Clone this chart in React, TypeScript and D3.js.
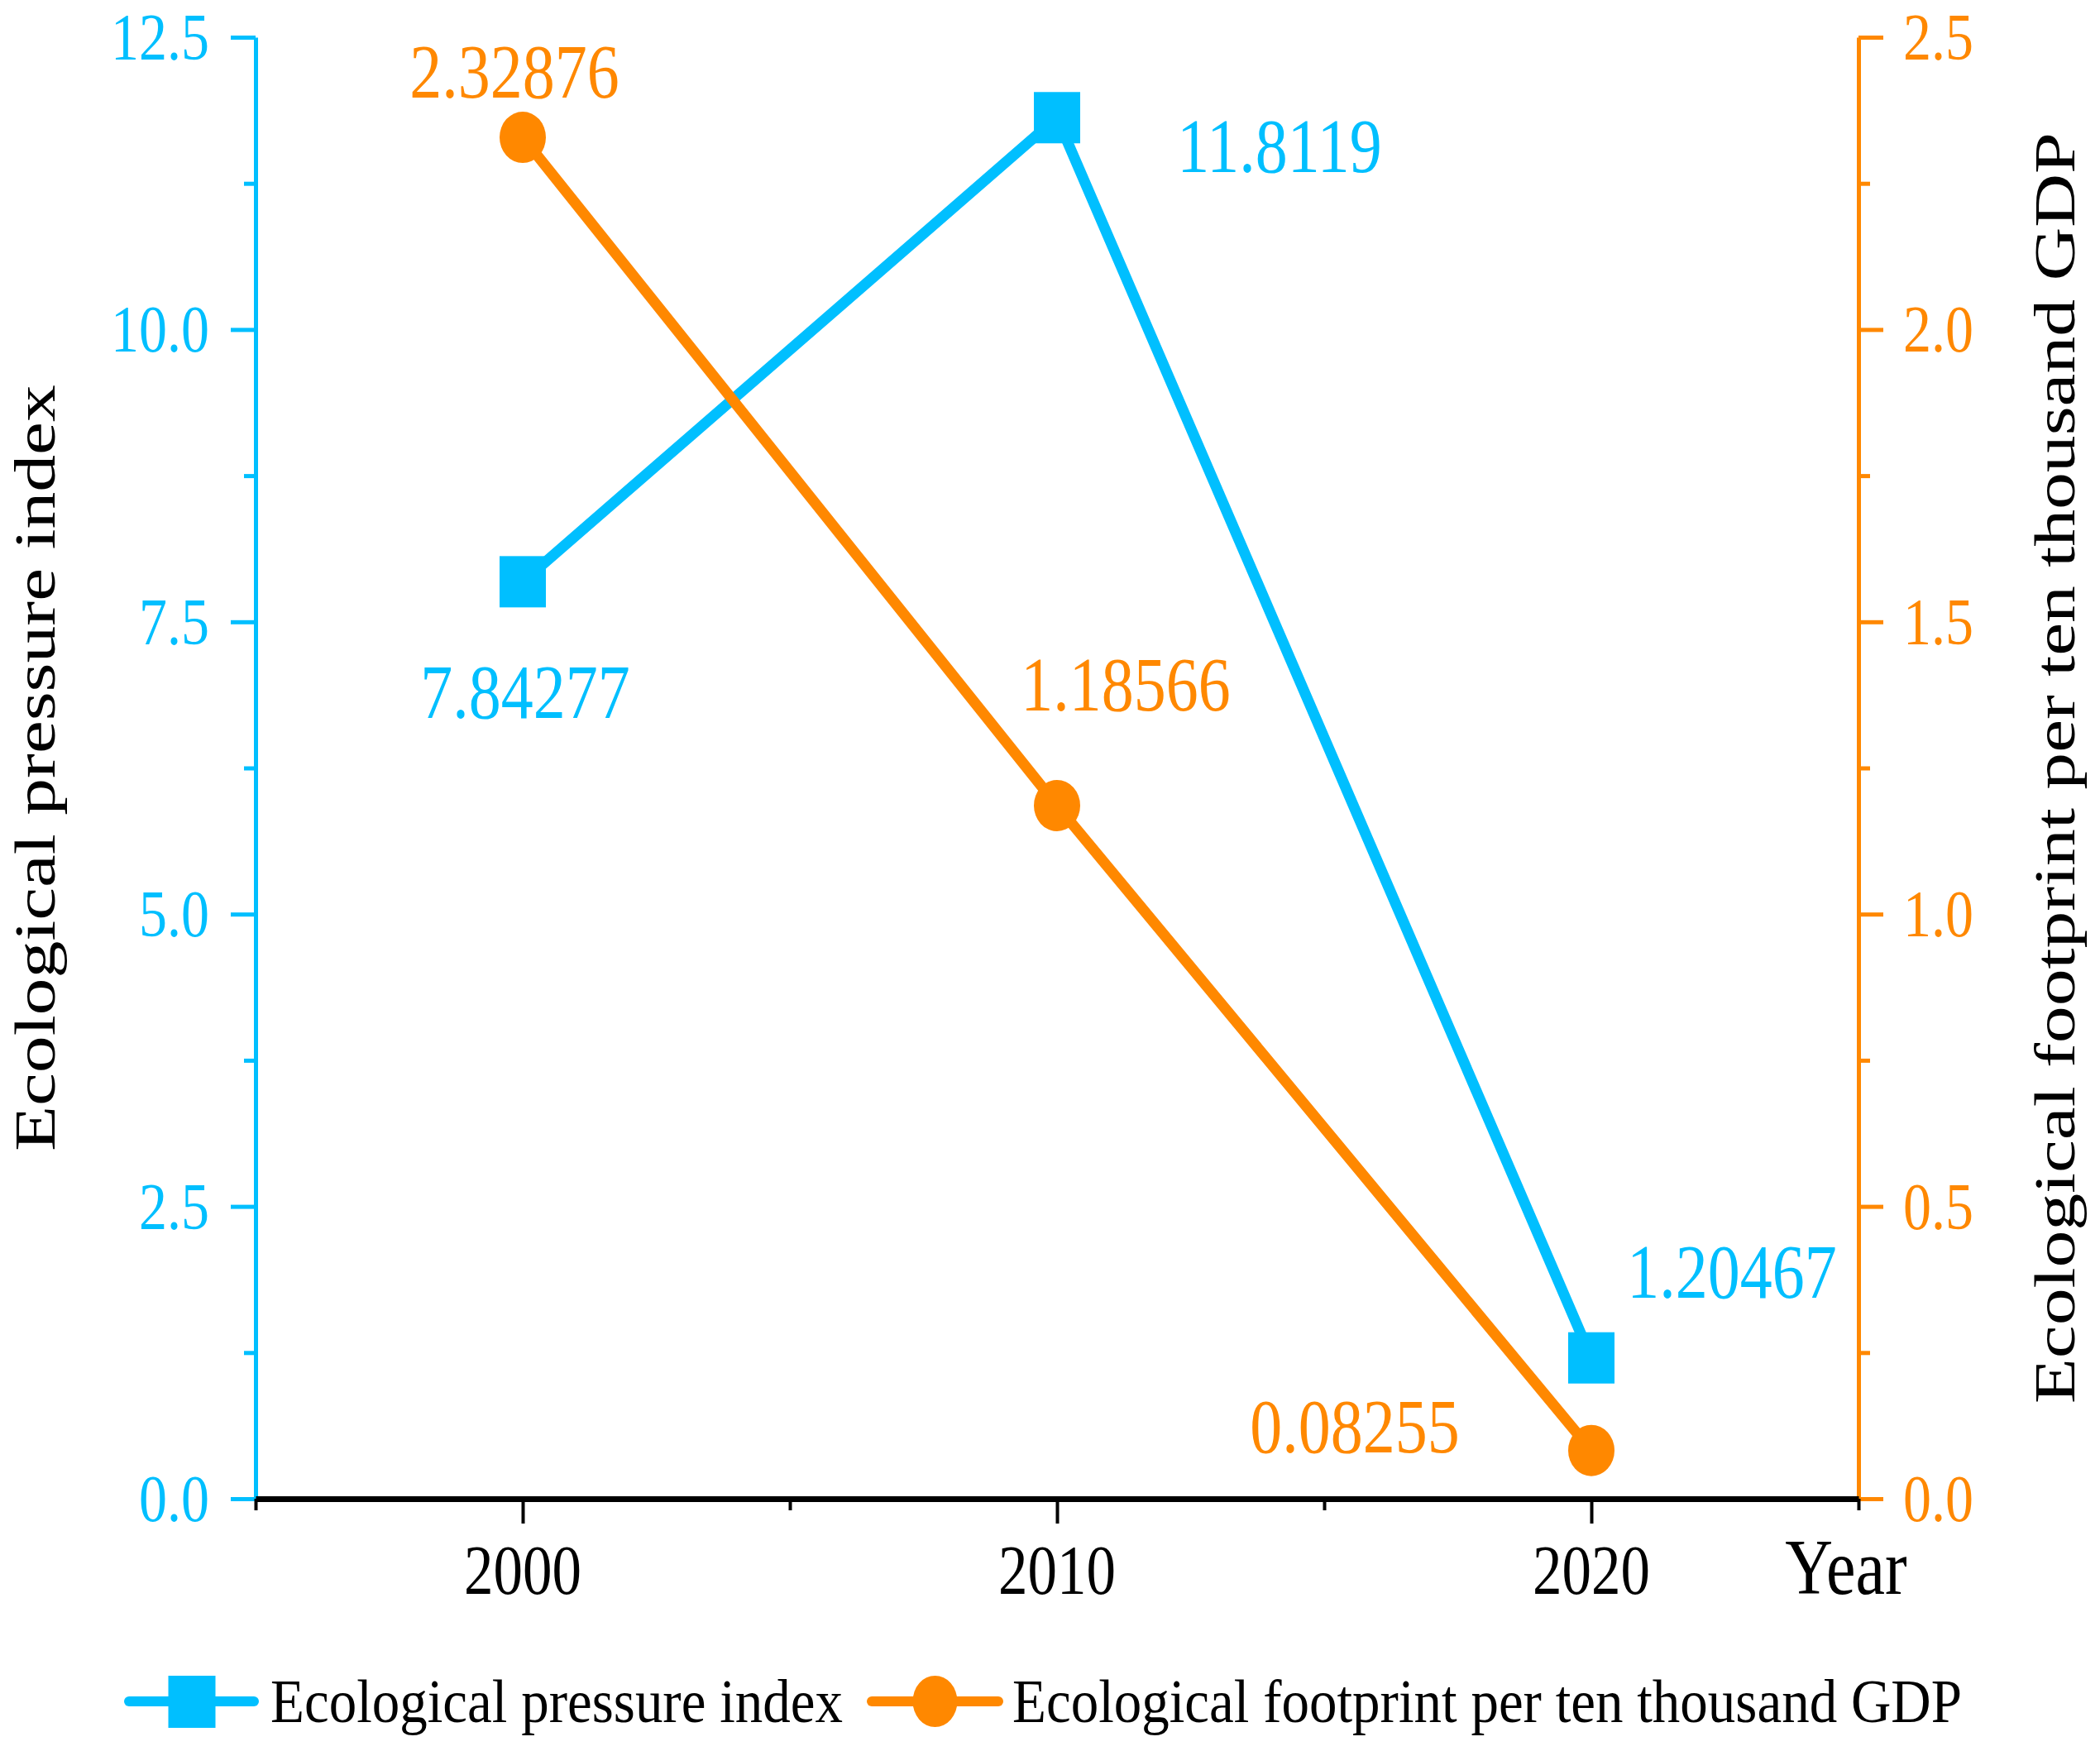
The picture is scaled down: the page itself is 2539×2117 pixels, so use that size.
import { useEffect, useRef } from 'react';
import * as d3 from 'd3';

const years = [2000, 2010, 2020];
const pressureIndex = [7.84277, 11.8119, 1.20467];
const footprintPerGdp = [2.32876, 1.18566, 0.08255];
const leftTicks = [0, 2.5, 5, 7.5, 10, 12.5];
const rightTicks = [0, 0.5, 1, 1.5, 2, 2.5];
const yearTicks = [2000, 2010, 2020];
const yearMinorTicks = [1995, 2005, 2015, 2025];

const BLUE = '#00bfff';
const ORANGE = '#ff8800';
const FONT = '"Liberation Serif", "Times New Roman", serif';
const W = 2539;
const H = 2117;

// hand-placed value labels (dx, dy from the point), as in the source figure
const pressureLabelOffsets = [[3, 165], [269, 66], [170, -73]];
const footprintLabelOffsets = [[-10, -48], [83, -115], [-286, 2]];

type Sel = d3.Selection<SVGGElement, unknown, null, undefined>;

function addText(
  parent: Sel,
  x: number, y: number, str: string,
  o: { size: number; fill?: string; anchor?: string; stretch?: number; rotate?: boolean }
) {
  const k = o.stretch ?? 1.18;
  const tr = o.rotate
    ? `translate(${x},${y}) rotate(-90) scale(${k},1)`
    : `translate(${x},${y}) scale(1,${k})`;
  return parent.append('text')
    .attr('transform', tr)
    .attr('fill', o.fill ?? '#000')
    .attr('text-anchor', o.anchor ?? 'middle')
    .style('font-family', FONT)
    .style('font-size', `${o.size}px`)
    .text(str);
}

export default function App() {
  const svgRef = useRef<SVGSVGElement>(null);

  useEffect(() => {
    if (!svgRef.current) return;
    const svg = d3.select(svgRef.current);
    svg.selectAll('*').remove();

    const left = 309, right = 2247, top = 45, bottom = 1812;

    const x = d3.scaleLinear().domain([1995, 2025]).range([left, right]);
    const yL = d3.scaleLinear().domain([0, 12.5]).range([bottom, top]);
    const yR = d3.scaleLinear().domain([0, 2.5]).range([bottom, top]);

    const g = svg.append('g') as Sel;

    // Left axis (blue)
    const leftAxis = g.append('g').attr('transform', `translate(${left},0)`);
    leftAxis.call(d3.axisLeft(yL).tickValues(leftTicks).tickSize(30).tickSizeOuter(0).tickFormat(() => ''));
    leftAxis.append('g').call(
      d3.axisLeft(yL).tickValues(d3.range(1.25, 12.5, 2.5)).tickSize(14).tickFormat(() => '')
    ).select('.domain').remove();
    leftAxis.selectAll('path, line').attr('stroke', BLUE).attr('stroke-width', 5);

    // Right axis (orange)
    const rightAxis = g.append('g').attr('transform', `translate(${right},0)`);
    rightAxis.call(d3.axisRight(yR).tickValues(rightTicks).tickSize(30).tickSizeOuter(0).tickFormat(() => ''));
    rightAxis.append('g').call(
      d3.axisRight(yR).tickValues(d3.range(0.25, 2.5, 0.5)).tickSize(14).tickFormat(() => '')
    ).select('.domain').remove();
    rightAxis.selectAll('path, line').attr('stroke', ORANGE).attr('stroke-width', 5);

    // Bottom axis (black)
    const xAxis = g.append('g').attr('transform', `translate(0,${bottom})`);
    xAxis.call(d3.axisBottom(x).tickValues(yearTicks).tickSize(30).tickSizeOuter(0).tickFormat(() => ''));
    xAxis.append('g').call(
      d3.axisBottom(x).tickValues(yearMinorTicks).tickSize(14).tickFormat(() => '')
    ).select('.domain').remove();
    xAxis.selectAll('line').attr('stroke', '#000').attr('stroke-width', 4);
    xAxis.select('.domain').attr('stroke', '#000').attr('stroke-width', 7);

    // Tick labels
    leftTicks.forEach(t => addText(g, left - 56, yL(t) + 27, t.toFixed(1), { size: 68, fill: BLUE, anchor: 'end' }));
    rightTicks.forEach(t => addText(g, right + 54, yR(t) + 27, t.toFixed(1), { size: 68, fill: ORANGE, anchor: 'start' }));
    yearTicks.forEach(t => addText(g, x(t), 1927, String(t), { size: 71 }));
    addText(g, 2232, 1927, 'Year', { size: 80 });

    // Axis titles
    addText(g, 66, (top + bottom) / 2, 'Ecological pressure index', { size: 69, rotate: true, stretch: 1.3 });
    addText(g, 2508, (top + bottom) / 2, 'Ecological footprint per ten thousand GDP', { size: 69, rotate: true, stretch: 1.3 });

    const line = (ys: d3.ScaleLinear<number, number>) =>
      d3.line<number>().x((_, i) => x(years[i])).y(d => ys(d));

    // Blue series
    g.append('path')
      .attr('d', line(yL)(pressureIndex))
      .attr('fill', 'none').attr('stroke', BLUE).attr('stroke-width', 13)
      .attr('stroke-linejoin', 'round').attr('stroke-linecap', 'round');
    g.selectAll('.sq').data(pressureIndex).enter().append('rect')
      .attr('x', (_, i) => x(years[i]) - 28).attr('y', d => yL(d) - 31)
      .attr('width', 56).attr('height', 62).attr('fill', BLUE);

    // Orange series
    g.append('path')
      .attr('d', line(yR)(footprintPerGdp))
      .attr('fill', 'none').attr('stroke', ORANGE).attr('stroke-width', 13)
      .attr('stroke-linejoin', 'round').attr('stroke-linecap', 'round');
    g.selectAll('.dot').data(footprintPerGdp).enter().append('ellipse')
      .attr('cx', (_, i) => x(years[i])).attr('cy', d => yR(d))
      .attr('rx', 28).attr('ry', 31).attr('fill', ORANGE);

    // Value labels
    pressureIndex.forEach((v, i) => {
      const [dx, dy] = pressureLabelOffsets[i];
      addText(g, x(years[i]) + dx, yL(v) + dy, String(v), { size: 78, fill: BLUE });
    });
    footprintPerGdp.forEach((v, i) => {
      const [dx, dy] = footprintLabelOffsets[i];
      addText(g, x(years[i]) + dx, yR(v) + dy, String(v), { size: 78, fill: ORANGE });
    });

    // Legend
    const legendY = 2057;
    const legendItems = [
      { x0: 150, x1: 313, color: BLUE, marker: 'square', textX: 327, label: 'Ecological pressure index' },
      { x0: 1048, x1: 1213, color: ORANGE, marker: 'circle', textX: 1224, label: 'Ecological footprint per ten thousand GDP' },
    ];
    legendItems.forEach(item => {
      g.append('line')
        .attr('x1', item.x0 + 6).attr('x2', item.x1 - 6)
        .attr('y1', legendY).attr('y2', legendY)
        .attr('stroke', item.color).attr('stroke-width', 12).attr('stroke-linecap', 'round');
      const cx = (item.x0 + item.x1) / 2;
      if (item.marker === 'square') {
        g.append('rect').attr('x', cx - 28).attr('y', legendY - 31)
          .attr('width', 57).attr('height', 63).attr('fill', item.color);
      } else {
        g.append('ellipse').attr('cx', cx).attr('cy', legendY)
          .attr('rx', 27).attr('ry', 31).attr('fill', item.color);
      }
      addText(g, item.textX, 2082, item.label, { size: 67, anchor: 'start', stretch: 1.12 });
    });
  }, []);

  return (
    <svg
      ref={svgRef}
      width={W}
      height={H}
      style={{ position: 'absolute', left: 0, top: 0, background: '#fff' }}
    />
  );
}
